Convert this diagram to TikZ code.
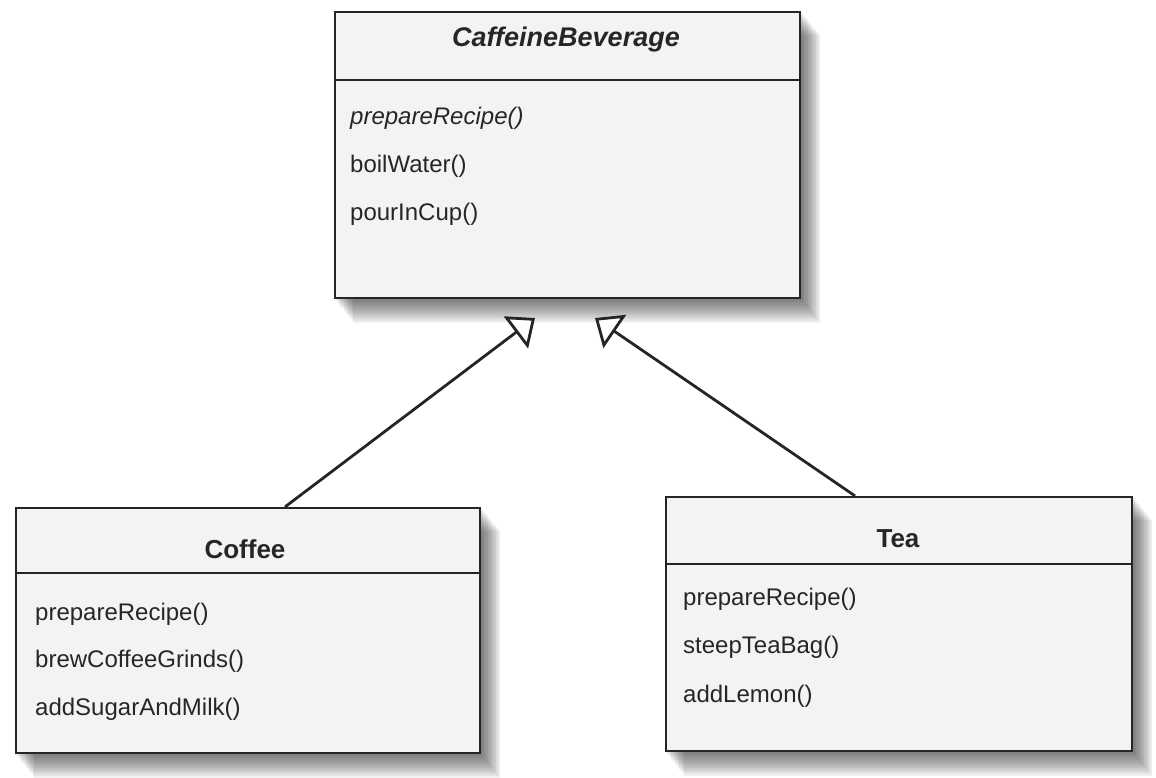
\documentclass[tikz,border=0pt]{standalone}
\usepackage{fontspec}
\setmainfont{Liberation Sans}
\usetikzlibrary{arrows.meta,backgrounds}
\definecolor{boxfill}{HTML}{F3F3F3}
\definecolor{ink}{HTML}{252525}
\definecolor{txt}{HTML}{262626}
\tikzset{
  x=1pt, y=-1pt,
  cls/.style={draw=ink, line width=2.2pt, fill=boxfill, inner sep=0pt},
  divider/.style={draw=ink, line width=1.8pt},
  title/.style={anchor=base, inner sep=0pt, text=txt, font=\fontsize{26}{30}\selectfont\bfseries},
  meth/.style={anchor=base west, inner sep=0pt, text=txt, font=\fontsize{24}{28}\selectfont},
  inherit/.style={draw=ink, line width=2.8pt, -{Triangle[open, length=24pt, width=40pt, line width=2.8pt, fill=white]}},
}
\begin{document}
\begin{tikzpicture}
\useasboundingbox (0,0) rectangle (1156,778);
% boxes
\node[cls, minimum width=465pt, minimum height=286pt] (cb) at (567.5,155) {};
\node[cls, minimum width=464pt, minimum height=245pt] (coffee) at (248,630.5) {};
\node[cls, minimum width=466pt, minimum height=254pt] (tea) at (899,624) {};
% shadows
\begin{scope}[on background layer]
\foreach \b in {cb,coffee,tea}{
  \foreach \d in {2,4,...,24}{
    \fill[black, opacity=0.055] ([shift={(\d*0.8,\d)}]\b.north west) rectangle ([shift={(\d*0.8,\d)}]\b.south east);
  }
}
\end{scope}
% dividers
\coordinate (cbL) at (335,80);   \coordinate (cbR) at (800,80);
\coordinate (coL) at (16,573);   \coordinate (coR) at (480,573);
\coordinate (teL) at (666,564);  \coordinate (teR) at (1132,564);
\draw[divider] (cbL) -- (cbR);
\draw[divider] (coL) -- (coR);
\draw[divider] (teL) -- (teR);
% titles
\node[title, font=\fontsize{27}{30}\selectfont\bfseries\itshape] (cbt) at (566,47) {CaffeineBeverage};
\node[title] (cot) at (245,558) {Coffee};
\node[title] (tet) at (898,547) {Tea};
% methods
\node[meth, font=\fontsize{24}{28}\selectfont\itshape] (cb1) at (350,125) {prepareRecipe()};
\node[meth] (cb2) at (350,173) {boilWater()};
\node[meth] (cb3) at (350,221) {pourInCup()};
\node[meth] (co1) at (35,620) {prepareRecipe()};
\node[meth] (co2) at (35,667) {brewCoffeeGrinds()};
\node[meth] (co3) at (35,715) {addSugarAndMilk()};
\node[meth] (te1) at (683,605) {prepareRecipe()};
\node[meth] (te2) at (683,653) {steepTeaBag()};
\node[meth] (te3) at (683,702) {addLemon()};
% inheritance arrows
\coordinate (tipL) at (535,318);
\coordinate (tipR) at (595,318);
\draw[inherit] ([xshift=37pt]coffee.north) -- (tipL);
\draw[inherit] ([xshift=-44pt]tea.north) -- (tipR);
\end{tikzpicture}
\end{document}
